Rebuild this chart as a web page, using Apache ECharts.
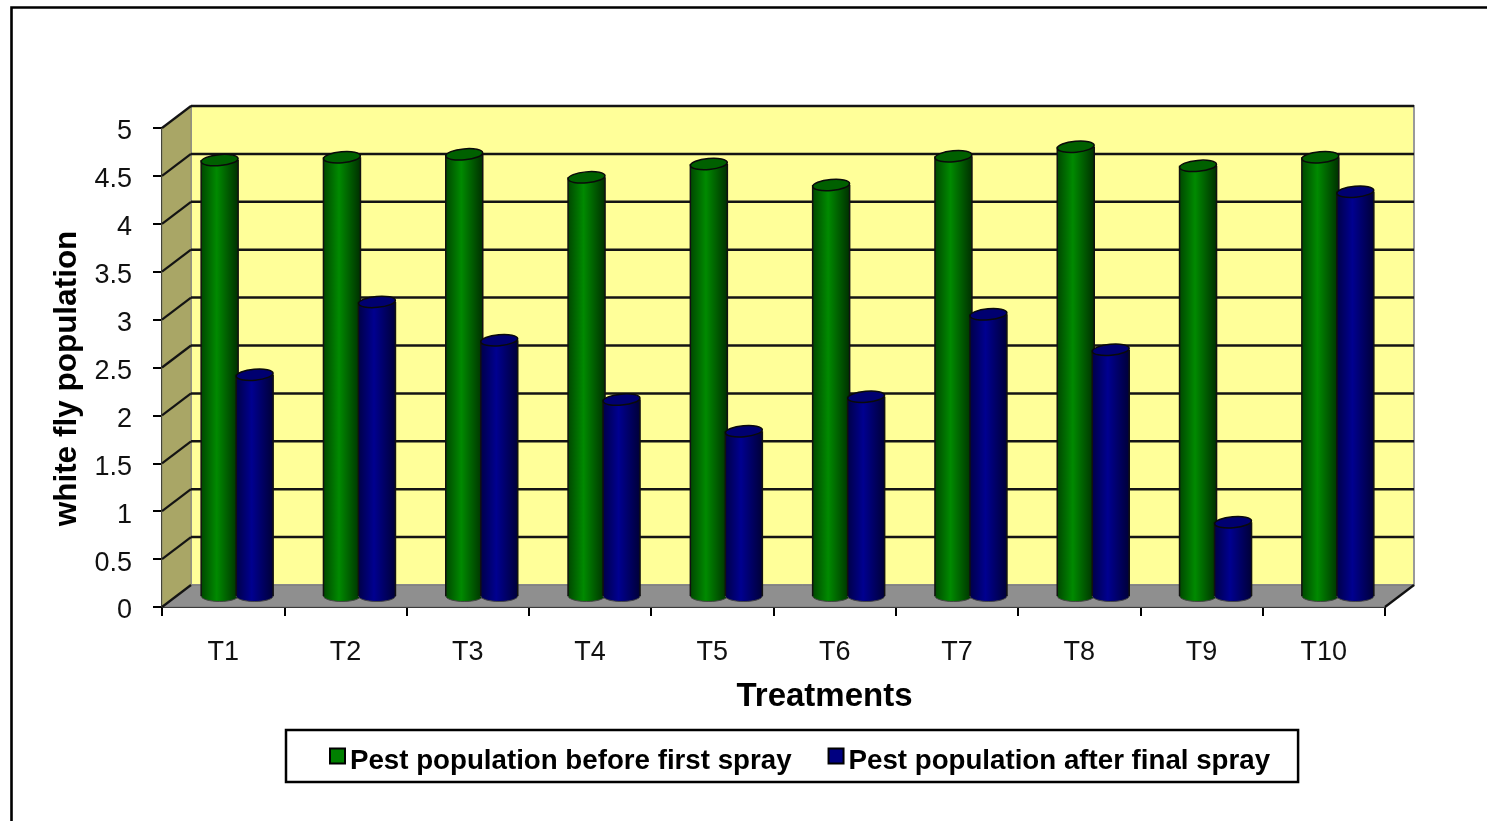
<!DOCTYPE html>
<html><head><meta charset="utf-8">
<style>html,body{margin:0;padding:0;background:#fff}#c{width:1487px;height:821px}</style>
<script src="https://cdn.jsdelivr.net/npm/echarts@6/dist/echarts.min.js"></script>
</head><body><div id="c"></div>
<script>
var categories = ['T1','T2','T3','T4','T5','T6','T7','T8','T9','T10'];
var beforeSpray = [4.55,4.58,4.61,4.37,4.51,4.29,4.59,4.69,4.49,4.58];
var afterSpray = [2.31,3.07,2.67,2.05,1.72,2.08,2.94,2.57,0.77,4.22];
var gridValues = [0,0.5,1,1.5,2,2.5,3,3.5,4,4.5,5];
var seriesNames = ['Pest population before first spray','Pest population after final spray'];

var DX = 29, DY = -22, FONT = '"Liberation Sans", Arial, sans-serif';

function renderWalls(params, api){
  var cs = params.coordSys, L = cs.x, R = cs.x + cs.width, T = cs.y, B = cs.y + cs.height;
  var kids = [];
  kids.push({type:'polygon',shape:{points:[[L+DX,T+DY],[R+DX,T+DY],[R+DX,B+DY],[L+DX,B+DY]]},style:{fill:'#ffff99',stroke:'#9a9a9a',lineWidth:2}});
  kids.push({type:'polygon',shape:{points:[[L,T],[L+DX,T+DY],[L+DX,B+DY],[L,B]]},style:{fill:'#a9a666',stroke:'#8a8a70',lineWidth:1}});
  kids.push({type:'polygon',shape:{points:[[L,B],[R,B],[R+DX,B+DY],[L+DX,B+DY]]},style:{fill:'#8f8f8f',stroke:'#777',lineWidth:1}});
  gridValues.forEach(function(v){
    var y = api.coord([0,v])[1];
    if(v>0){
      kids.push({type:'line',shape:{x1:L+DX,y1:y+DY,x2:R+DX,y2:y+DY},style:{stroke:'#141414',lineWidth:2.5}});
    }
    kids.push({type:'line',shape:{x1:L,y1:y,x2:L+DX,y2:y+DY},style:{stroke:'#141414',lineWidth:2.2}});
  });
  kids.push({type:'line',shape:{x1:R,y1:B,x2:R+DX,y2:B+DY},style:{stroke:'#111',lineWidth:2.2}});
  return {type:'group',children:kids};
}

function cylinder(shift, edgeL, mid, edgeR, cap){
  return function(params, api){
    var idx = api.value(0), val = api.value(1);
    var top = api.coord([idx,val]), bot = api.coord([idx,0]);
    var cx = top[0] + DX/2 + shift, rx = 18.5, ry = 5.5;
    var yT = top[1] + DY/2, yB = bot[1] + DY/2;
    var grad = new echarts.graphic.LinearGradient(0,0,1,0,[
      {offset:0,color:edgeL},{offset:0.42,color:mid},{offset:1,color:edgeR}]);
    return {type:'group',children:[
      {type:'ellipse',shape:{cx:cx,cy:yB,rx:rx,ry:ry},style:{fill:grad,stroke:'#444',lineWidth:1}},
      {type:'rect',shape:{x:cx-rx,y:yT,width:rx*2,height:yB-yT},style:{fill:grad}},
      {type:'line',shape:{x1:cx-rx,y1:yT,x2:cx-rx,y2:yB},style:{stroke:'#111',lineWidth:1.5}},
      {type:'line',shape:{x1:cx+rx,y1:yT,x2:cx+rx,y2:yB},style:{stroke:'#111',lineWidth:1.5}},
      {type:'ellipse',x:cx,y:yT,rotation:0.09,shape:{cx:0,cy:0,rx:rx,ry:ry},style:{fill:cap,stroke:'#0a0a0a',lineWidth:1.5}}
    ]};
  };
}

var chart = echarts.init(document.getElementById('c'),null,{renderer:'canvas'});
chart.setOption({
  animation:false,
  backgroundColor:'#fff',
  textStyle:{fontFamily:FONT},
  grid:{left:162,right:102,top:128,bottom:214,containLabel:false},
  graphic:[
    {type:'polyline',silent:true,shape:{points:[[11.5,823],[11.5,7.5],[1489,7.5]]},style:{fill:null,stroke:'#000',lineWidth:2.6}}
  ],
  legend:{
    left:286,top:730,orient:'horizontal',
    padding:[6.5,28,6.5,43],
    data:seriesNames,
    icon:'rect',
    itemWidth:15,itemHeight:15,itemGap:36,
    borderColor:'#000',borderWidth:2.5,backgroundColor:'#fff',
    formatter:'{t|{name}}',
    textStyle:{rich:{t:{fontFamily:FONT,fontWeight:'bold',fontSize:27.7,color:'#000',lineHeight:29,padding:[11,0,0,0]}}}
  },
  xAxis:{
    type:'category',data:categories,boundaryGap:true,
    name:'Treatments',nameLocation:'middle',nameGap:73,
    nameTextStyle:{fontFamily:FONT,fontWeight:'bold',fontSize:33,color:'#000',padding:[0,0,0,102]},
    axisLine:{lineStyle:{color:'#000',width:2}},
    axisTick:{show:true,length:9,alignWithLabel:false,lineStyle:{color:'#000',width:2}},
    axisLabel:{fontFamily:FONT,fontSize:27,color:'#111',margin:32,interval:0}
  },
  yAxis:{
    type:'value',min:0,max:5,interval:0.5,
    name:'white fly population',nameLocation:'middle',nameGap:73,nameRotate:90,
    nameTextStyle:{fontFamily:FONT,fontWeight:'bold',fontSize:31.5,color:'#000',padding:[0,22,0,0]},
    splitLine:{show:false},
    axisLine:{show:true,lineStyle:{color:'#000',width:2}},
    axisTick:{show:true,length:9,lineStyle:{color:'#000',width:2}},
    axisLabel:{fontFamily:FONT,fontSize:27,color:'#111',margin:30,verticalAlign:'top',lineHeight:8,
      formatter:function(v){return String(v);},showMinLabel:true,showMaxLabel:true}
  },
  series:[
    {type:'custom',silent:true,z:1,renderItem:renderWalls,data:[[0,0]],clip:false,encode:{x:0,y:1},legendHoverLink:false,tooltip:{show:false}},
    {name:seriesNames[0],type:'custom',z:2,clip:false,renderItem:cylinder(-18,'#004800','#008a00','#003000','#006000'),
      itemStyle:{color:'#008000',borderColor:'#000',borderWidth:2.5},encode:{x:0,y:1},
      data:beforeSpray.map(function(v,i){return [i,v];})},
    {name:seriesNames[1],type:'custom',z:3,clip:false,renderItem:cylinder(17,'#000048','#000090','#000038','#000070'),
      itemStyle:{color:'#000080',borderColor:'#000',borderWidth:2.5},encode:{x:0,y:1},
      data:afterSpray.map(function(v,i){return [i,v];})}
  ]
});
</script></body></html>
